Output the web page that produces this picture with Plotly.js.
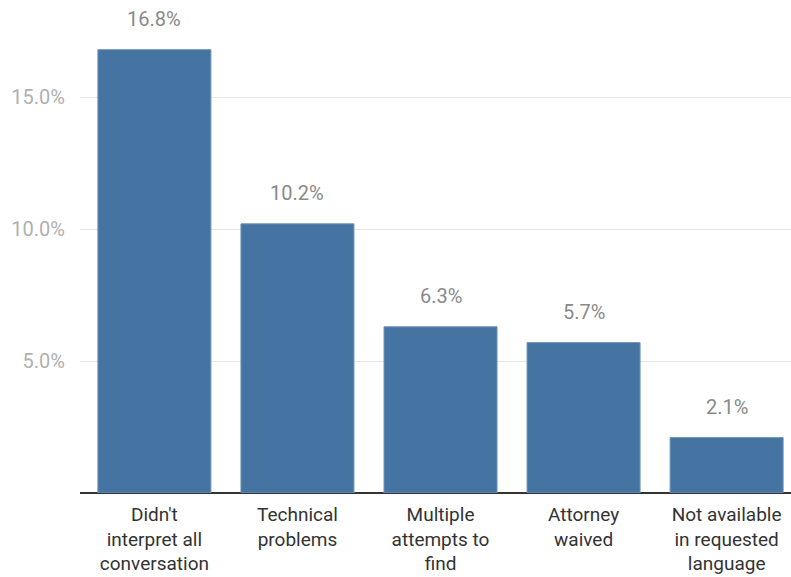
<!DOCTYPE html>
<html><head><meta charset="utf-8">
<script src="https://cdn.plot.ly/plotly-3.0.1.min.js"></script>
<style>html,body{margin:0;padding:0;background:#fff}</style>
</head><body><div id="chart" style="width:791px;height:577px"></div>
<script>
const categories = ["Didn't<br>interpret all<br>conversation","Technical<br>problems","Multiple<br>attempts to<br>find","Attorney<br>waived","Not available<br>in requested<br>language"];
const values = [16.8, 10.2, 6.3, 5.7, 2.1];
const tickVals = [5, 10, 15];
const tickText = ["5.0%", "10.0%", "15.0%"];

const trace = {
  type: 'bar', x: [0,1,2,3,4], y: values,
  marker: {color: '#4674a2', line: {color: '#6f93b8', width: 1}},
  width: 0.79, hoverinfo: 'none'
};
const annotations = values.map((v, i) => ({
  x: i, y: v, xref: 'x', yref: 'y', text: v.toFixed(1) + '%', showarrow: false,
  yanchor: 'bottom', yshift: 17, font: {family: 'Roboto', size: 20, color: '#8a8a8a'}
}));
const layout = {
  width: 791, height: 577,
  margin: {l: 80, r: 0, t: 18, b: 84},
  paper_bgcolor: '#fff', plot_bgcolor: '#fff',
  showlegend: false,
  font: {family: 'Roboto'},
  xaxis: {range: [-0.52, 4.45], tickvals: [0,1,2,3,4], ticktext: categories,
    showgrid: false, zeroline: false, showline: false, ticks: '', ticklabelstandoff: 8,
    tickfont: {family: 'Roboto', size: 19, color: '#333'}, fixedrange: true},
  yaxis: {range: [0, 18], tickvals: tickVals, ticktext: tickText,
    showgrid: true, gridcolor: '#e6e6e6', gridwidth: 1,
    zeroline: true, zerolinecolor: '#333', zerolinewidth: 2,
    showline: false, ticks: '', ticklabelstandoff: 14,
    tickfont: {family: 'Roboto', size: 20, color: '#b0b0b0'}, fixedrange: true},
  annotations: annotations
};
Plotly.newPlot('chart', [trace], layout, {displayModeBar: false, staticPlot: true});
</script></body></html>
